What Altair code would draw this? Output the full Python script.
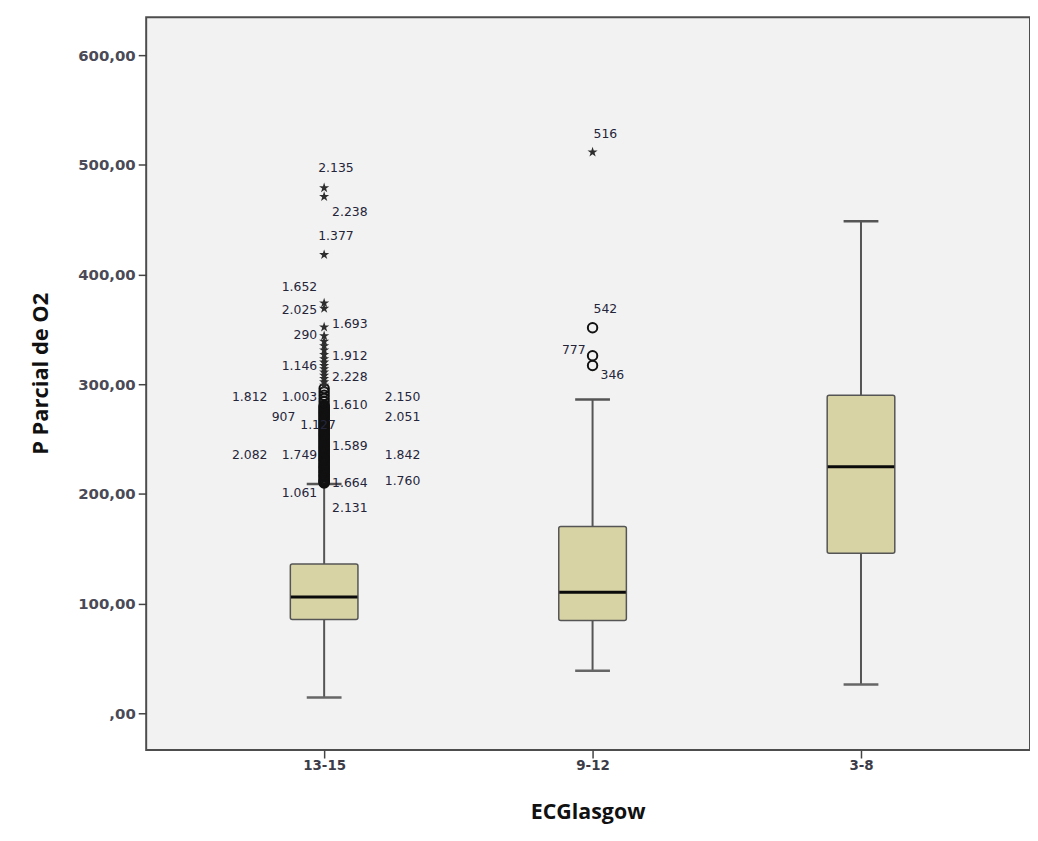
import altair as alt
import pandas as pd

# ---------------- data ----------------
categories = ["13-15", "9-12", "3-8"]
whisker_lo = [14.5, 38.7, 26.3]
q1 = [85.5, 84.6, 146.0]
median = [106.0, 110.3, 224.8]
q3 = [136.0, 170.4, 290.0]
whisker_hi = [209.0, 286.0, 448.6]

# outliers (circles) and extremes (stars)
circle_val_a = [210, 210.5, 211.5, 212, 213, 214, 215.5, 216, 217, 218, 219.5, 220,
                221, 222, 223.5, 224, 225, 226, 227, 228, 229, 230.5, 231, 232, 233,
                234, 235, 236, 237, 238, 239, 240, 241, 242, 243, 244, 245, 246, 247,
                248, 249, 250, 251, 252, 253, 254, 255, 256, 257, 258, 259, 260, 261,
                262, 263, 264, 265, 266, 267, 268, 269, 270, 271, 272, 273, 274, 275,
                276, 277, 278, 279, 280, 281, 284, 287, 290, 293, 296]
circle_val_b = [351.4, 326.0, 317.0]
star_val_a = [299, 302, 305, 308, 311, 314, 317, 320, 323, 327, 331, 335, 339, 344,
              352, 369, 374, 418, 471, 479]
star_val_b = [511.5]

# case-number labels: text, category, value at text centre, label column
label_text = ["2.135", "2.238", "1.377", "1.652", "2.025", "1.693", "290", "1.912",
              "1.146", "2.228", "1.812", "1.003", "1.610", "2.150", "2.051", "907",
              "1.127", "1.589", "2.082", "1.749", "1.842", "1.664", "1.760", "1.061",
              "2.131",
              "516", "542", "777", "346"]
label_cat = ["13-15"] * 25 + ["9-12"] * 4
label_val = [497, 457, 435, 388.2, 367.7, 355, 344.4, 325.4,
             316.3, 306.6, 288, 288.2, 281, 288.5, 270.4, 270.4,
             262.8, 243.2, 235, 235, 235.7, 210, 211.5, 201,
             187.3,
             528.4, 368.6, 330.8, 308.2]
label_col = ["top_left", "right", "top_left", "left", "left", "right", "left", "right",
             "left", "right", "far_left", "left", "right", "far_right", "far_right", "left_mid",
             "mid", "right", "far_left", "left", "far_right", "right", "far_right", "left",
             "right",
             "top", "top", "left", "right"]

y_ticks = [0, 100, 200, 300, 400, 500, 600]

# ---------------- tables ----------------
boxes = pd.DataFrame({"cat": categories, "lo": whisker_lo, "q1": q1,
                      "med": median, "q3": q3, "hi": whisker_hi})
circles = pd.DataFrame({"cat": ["13-15"] * len(circle_val_a) + ["9-12"] * len(circle_val_b),
                        "v": circle_val_a + circle_val_b})
stars = pd.DataFrame({"cat": ["13-15"] * len(star_val_a) + ["9-12"] * len(star_val_b),
                      "v": star_val_a + star_val_b})
labels = pd.DataFrame({"cat": label_cat, "v": label_val, "t": label_text, "col": label_col})

# ---------------- scales ----------------
PLOT_W, PLOT_H = 889, 737
xscale = alt.Scale(type="point", domain=categories, range=[179, 719], padding=0)
yscale = alt.Scale(domain=[-33.5, 634.4], nice=False, zero=False)

label_expr = "datum.value == 0 ? ',00' : replace(format(datum.value, '.2f'), '.', ',')"

x_enc = alt.X("cat:N", scale=xscale, sort=categories,
              axis=alt.Axis(title="ECGlasgow", labelAngle=0, grid=False, domain=False,
                            ticks=True, tickSize=8, tickWidth=1.5, tickColor="#444444",
                            labelFont="DejaVu Sans", labelFontSize=13.5, labelFontWeight="bold",
                            labelColor="#3c3c48", labelPadding=1,
                            titleFont="Open Sans", titleFontSize=21.5, titleFontWeight="bold",
                            titleColor="#111111", titleY=63, titleBaseline="middle",
                            titleX=444, titleAlign="center"))


def y_enc(field):
    return alt.Y(field, type="quantitative", scale=yscale,
                 axis=alt.Axis(title="P Parcial de O2", values=y_ticks, grid=False,
                               domain=False, tickSize=8, tickWidth=1.5, tickColor="#444444",
                               labelExpr=label_expr, labelFont="DejaVu Sans",
                               labelFontSize=15, labelFontWeight="bold",
                               labelColor="#4a4a56", labelPadding=3,
                               titleFont="Open Sans", titleFontSize=22, titleFontWeight="bold",
                               titleColor="#111111", titleAngle=270, titleAlign="center",
                               titleBaseline="bottom", titleX=-94, titleY=358))


base_box = alt.Chart(boxes)

whisk = base_box.mark_rule(color="#555555", strokeWidth=2).encode(
    x=x_enc, y=y_enc("lo"), y2="hi:Q")
cap_lo = base_box.mark_tick(color="#666666", thickness=2.5, size=35, orient="horizontal",
                            opacity=1).encode(x=x_enc, y=y_enc("lo"))
cap_hi = base_box.mark_tick(color="#555555", thickness=2.5, size=35, orient="horizontal",
                            opacity=1).encode(x=x_enc, y=y_enc("hi"))
box = base_box.mark_bar(size=68, fill="#D8D3A5", stroke="#555555", strokeWidth=1.5,
                        cornerRadius=2, opacity=1).encode(x=x_enc, y=y_enc("q1"), y2="q3:Q")
med = base_box.mark_tick(color="#0a0a0a", thickness=3, size=67, orient="horizontal",
                         opacity=1).encode(x=x_enc, y=y_enc("med"))

circ = alt.Chart(circles).mark_point(shape="circle", filled=False, size=90,
                                     stroke="#111111", strokeWidth=2, opacity=1).encode(
    x=x_enc, y=y_enc("v"))

STAR = ("M0,-1L0.224,-0.309L0.951,-0.309L0.363,0.118L0.588,0.809L0,0.382"
        "L-0.588,0.809L-0.363,0.118L-0.951,-0.309L-0.224,-0.309Z")
star = alt.Chart(stars).mark_point(shape=STAR, filled=True, size=115, color="#2e2e2e",
                                   opacity=1).encode(x=x_enc, y=y_enc("v"))

col_style = {
    "far_left": ("right", -57),
    "left": ("right", -7),
    "left_mid": ("right", -29),
    "mid": ("left", -24),
    "top_left": ("left", -6),
    "top": ("left", 1),
    "right": ("left", 8),
    "far_right": ("left", 61),
}

text_layers = []
for name, (al, dx) in col_style.items():
    text_layers.append(
        alt.Chart(labels).transform_filter(alt.datum.col == name)
        .mark_text(align=al, dx=dx, baseline="middle", font="DejaVu Sans",
                   fontSize=12.5, color="#25253a")
        .encode(x=x_enc, y=y_enc("v"), text="t:N")
    )

chart = alt.layer(whisk, cap_lo, cap_hi, box, med, circ, star, *text_layers).properties(
    width=PLOT_W, height=PLOT_H,
    autosize=alt.AutoSizeParams(type="none"),
    padding={"left": 139, "top": 7, "right": 0, "bottom": 80},
    background="#ffffff",
).configure_view(fill="#F2F2F2", stroke="#4d4d4d", strokeWidth=2)

chart.save("out.html", embed_options={"renderer": "svg", "actions": False})
